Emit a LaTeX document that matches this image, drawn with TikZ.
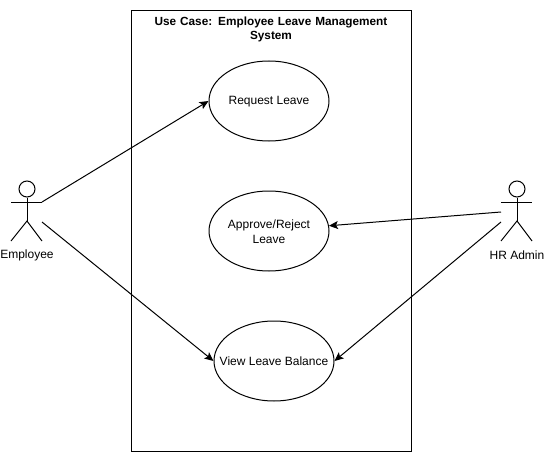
\documentclass[tikz,border=0pt]{standalone}
\usepackage{fontspec}
\setmainfont{Liberation Sans}
\usepackage{tikz}
\usetikzlibrary{arrows.meta,positioning,shapes.geometric}

\begin{document}
\begin{tikzpicture}[
 x=1pt,y=-1pt,
 line width=1pt,
 usecase/.style={draw,ellipse,minimum width=120pt,minimum height=80pt,inner sep=0pt},
 casetext/.style={align=center,inner sep=0pt,font=\fontsize{12}{15}\selectfont},
 head/.style={draw,circle,minimum size=16pt,inner sep=0pt},
 actorlabel/.style={font=\fontsize{12}{14}\selectfont,inner sep=0pt},
 arrow/.style={-{Stealth[length=9pt,width=8pt,inset=2pt]}}
]
\useasboundingbox (0,0) rectangle (544,452);
\node[draw,minimum width=280pt,minimum height=440pt,inner sep=0pt] (system) at (271,231) {};
\node[align=center,inner sep=0pt,font=\bfseries\fontsize{11.8}{14.5}\selectfont,text width=250pt] (title) at (271,29.5) {Use Case: Employee Leave Management\\System};
\node[usecase] (request) at (269,101) {};
\node[casetext] (requesttext) at (269,101.5) {Request Leave};
\node[usecase] (approve) at (269,231) {};
\node[casetext] (approvetext) at (269,232) {Approve/Reject\\Leave};
\node[usecase] (balance) at (274,361) {};
\node[casetext] (balancetext) at (274,361.5) {View Leave Balance};
% actors
\node[head] (emphead) at (27,189) {};
\coordinate (emphip) at (27,221);
\coordinate (emparmr) at (42,202);
\coordinate (emparml) at (11,202);
\coordinate (emplegl) at (11,241);
\coordinate (emplegr) at (42,241);
\coordinate (empout) at (42,222);
\node[actorlabel] (emplabel) at (27,255) {Employee};
\draw (emphead) -- (emphip);
\draw (emparml) -- (emparmr);
\draw (emplegl) -- (emphip) -- (emplegr);
\node[head] (hrhead) at (517,189) {};
\coordinate (hrhip) at (517,221);
\coordinate (hrarml) at (501,202);
\coordinate (hrarmr) at (532,202);
\coordinate (hrlegl) at (501,241);
\coordinate (hrlegr) at (532,241);
\coordinate (hrouta) at (501,212);
\coordinate (hroutb) at (501,222);
\node[actorlabel] (hrlabel) at (517,255) {HR Admin};
\draw (hrhead) -- (hrhip);
\draw (hrarml) -- (hrarmr);
\draw (hrlegl) -- (hrhip) -- (hrlegr);
% connectors
\draw[arrow] (emparmr) -- (request.west);
\draw[arrow] (empout) -- (balance.west);
\draw[arrow] (hrouta) -- (approve.5);
\draw[arrow] (hroutb) -- (balance.east);
\end{tikzpicture}
\end{document}
